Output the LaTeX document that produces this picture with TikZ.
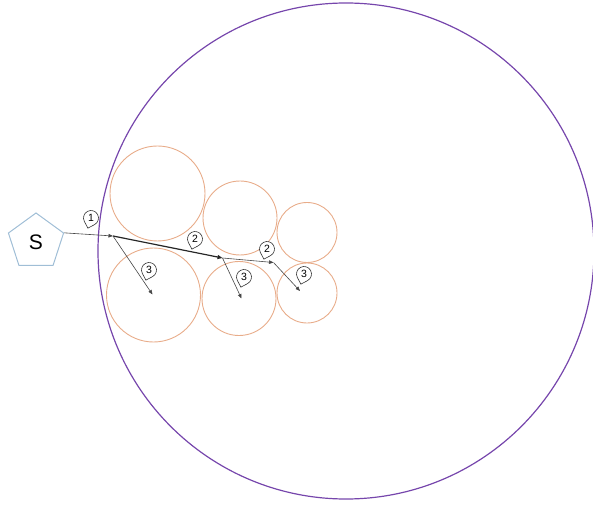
\documentclass[tikz,border=0pt]{standalone}
\usepackage{fontspec}
\setmainfont{Liberation Sans}
\usetikzlibrary{shapes.geometric,arrows.meta}

\definecolor{ringpurple}{RGB}{118,70,172}
\definecolor{cellorange}{RGB}{232,172,138}
\definecolor{srcblue}{RGB}{160,190,214}
\definecolor{flowgray}{RGB}{70,70,70}

\tikzset{
  ring/.style={draw=ringpurple, line width=1.2pt},
  cell/.style={draw=cellorange, line width=0.9pt},
  source/.style={regular polygon, regular polygon sides=5, minimum size=58pt,
    draw=srcblue, line width=1pt, inner sep=0pt, font=\fontsize{21}{21}\selectfont},
  flow/.style={draw=flowgray, line width=0.6pt, -{Triangle[length=4.5pt,width=3.5pt]}},
  mainflow/.style={draw=black!85, line width=1.2pt, -{Triangle[length=5pt,width=4pt]}},
  % numbered pin: circle round the origin, tip pointing down, tilted left
  tag/.pic={
    \draw[fill=white, line width=0.6pt, draw=black!80]
      (107:10.6) -- (62:7.5) arc (62:-208:7.5) -- cycle;
    \node[font=\fontsize{10.5}{10.5}\selectfont, inner sep=0pt] at (0,0) {#1};
  }
}

\begin{document}
\begin{tikzpicture}[x=1pt, y=-1pt]
\useasboundingbox (0,0) rectangle (593,510);

% enclosing region
\node[ring, circle, minimum size=496pt, inner sep=0pt] (zone) at (346,251) {};

% cells
\node[cell, circle, minimum size=95pt, inner sep=0pt] (c1) at (157.5,193.5) {};
\node[cell, circle, minimum size=94pt, inner sep=0pt] (c2) at (153.5,295) {};
\node[cell, circle, minimum size=74pt, inner sep=0pt] (c3) at (240,218) {};
\node[cell, circle, minimum size=74pt, inner sep=0pt] (c4) at (239,298.5) {};
\node[cell, circle, minimum size=60pt, inner sep=0pt] (c5) at (307,232.5) {};
\node[cell, circle, minimum size=60pt, inner sep=0pt] (c6) at (307,293) {};

% source
\node[source] (S) at (36,242) {S};

% branching points and ends
\coordinate (p1) at (113,236);
\coordinate (p2) at (222.5,258);
\coordinate (p3) at (273.5,262.5);
\coordinate (e3) at (152.5,294.5);
\coordinate (e4) at (241.5,298.5);
\coordinate (e6) at (300,291);

% flows
\draw[flow] (S.corner 5) -- (p1);
\draw[mainflow] (p1) -- (p2);
\draw[flow] (p1) -- (e3);
\draw[flow] (p2) -- (e4);
\draw[flow] (p2) -- (p3);
\draw[flow] (p3) -- (e6);

% step labels
\pic at (91,218) {tag=1};
\pic at (195,239) {tag=2};
\pic at (149,270) {tag=3};
\pic at (267,249) {tag=2};
\pic at (244,277) {tag=3};
\pic at (304,274) {tag=3};
\end{tikzpicture}
\end{document}
